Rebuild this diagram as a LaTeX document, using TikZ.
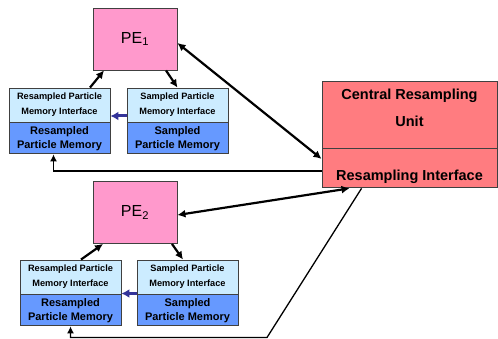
\documentclass[tikz,border=0pt]{standalone}
\usepackage{fontspec}
\setmainfont{Liberation Sans}
\usetikzlibrary{positioning,calc,arrows.meta}

\definecolor{pepink}{HTML}{FF99CC}
\definecolor{iflight}{HTML}{CCECFF}
\definecolor{memblue}{HTML}{6699FF}
\definecolor{crured}{HTML}{FF7C80}
\definecolor{linkblue}{HTML}{333399}

\begin{document}
\begin{tikzpicture}[x=1pt,y=-1pt,
   box/.style={draw=black!75,line width=0.9pt,inner sep=2pt,align=center},
   pebox/.style={box,fill=pepink,minimum width=84pt,minimum height=62pt,font=\fontsize{16}{18}\selectfont},
   ifbox/.style={box,fill=iflight,minimum width=101pt,minimum height=34pt,font=\fontsize{9.2}{15}\selectfont\bfseries},
   membox/.style={box,fill=memblue,minimum width=101pt,minimum height=31pt,font=\fontsize{11}{14}\selectfont\bfseries},
   crubox/.style={box,fill=crured,minimum width=175pt,font=\fontsize{14.5}{27}\selectfont\bfseries},
   link/.style={-{Latex[length=8pt,width=8pt]},line width=2.2pt},
   duplex/.style={{Latex[length=8pt,width=8pt]}-{Latex[length=8pt,width=8pt]},line width=2.2pt},
   feed/.style={-{Latex[length=7pt,width=7pt]},line width=1.3pt},
   handoff/.style={-{Latex[length=8pt,width=9pt]},line width=3pt,linkblue},
   node distance=0pt]
 \useasboundingbox (0,0) rectangle (498,339);
 % processing elements
 \node[pebox] (pe1) at (135,39) {PE\textsubscript{1}};
 \node[pebox] (pe2) at (135,212.5) {PE\textsubscript{2}};
 % particle memories of PE1
 \node[ifbox] (rif1) at (59.5,105) {Resampled Particle\\Memory Interface};
 \node[membox,below=of rif1] (rmem1) {Resampled\\Particle Memory};
 \node[ifbox] (sif1) at (177.5,105) {Sampled Particle\\Memory Interface};
 \node[membox,below=of sif1] (smem1) {Sampled\\Particle Memory};
 % particle memories of PE2
 \node[ifbox] (rif2) at (70.5,277) {Resampled Particle\\Memory Interface};
 \node[membox,below=of rif2] (rmem2) {Resampled\\Particle Memory};
 \node[ifbox] (sif2) at (187.5,277) {Sampled Particle\\Memory Interface};
 \node[membox,below=of sif2] (smem2) {Sampled\\Particle Memory};
 % central unit
 \node[crubox,minimum height=67pt,text depth=14pt] (cru) at (409.5,114.5) {Central Resampling\\Unit};
 \node[crubox,minimum height=39pt,text height=24pt,text depth=0pt,below=of cru] (cri) {Resampling Interface};
 % connections
 \draw[link] ([xshift=30.5pt]rif1.north) -- ([xshift=-31pt]pe1.south);
 \draw[link] ([xshift=31pt]pe1.south) -- (sif1.north);
 \draw[link] ([xshift=10.5pt]rif2.north) -- ([xshift=-32pt]pe2.south);
 \draw[link] ([xshift=37pt]pe2.south) -- ([xshift=-4.5pt]sif2.north);
 \draw[handoff] ([yshift=-11pt]sif1.west) -- ([yshift=-11pt]rif1.east);
 \draw[handoff] ([yshift=-16.5pt]sif2.west) -- ([yshift=-16.5pt]rif2.east);
 \draw[duplex] ([yshift=-4pt]pe1.east) -- ([yshift=9.5pt]cri.west);
 \draw[duplex] ([yshift=-2.5pt]pe2.east) -- ([xshift=28pt]cri.south west);
 \draw[feed] ([yshift=-2.5pt]cri.west) -| ([xshift=-6pt]rmem1.south);
 \coordinate (turn) at (267,337.5);
 \draw[feed] ([xshift=40pt]cri.south west) -- (turn) -| (rmem2.south);
\end{tikzpicture}
\end{document}
